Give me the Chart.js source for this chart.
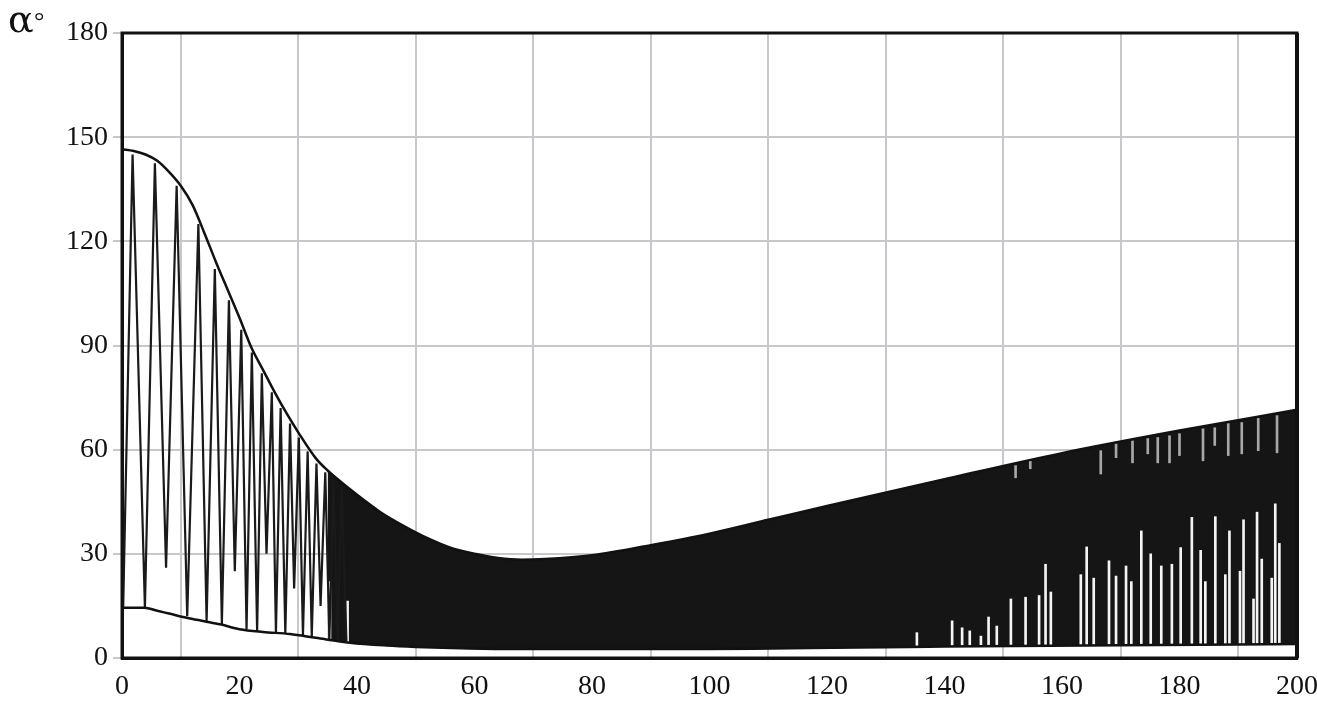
<!DOCTYPE html>
<html>
<head>
<meta charset="utf-8">
<script src="https://cdn.jsdelivr.net/npm/chart.js@4.4.1/dist/chart.umd.min.js"></script>
<style>
  html, body { margin: 0; padding: 0; background: #fff; }
  #wrap { width: 1317px; height: 702px; }
</style>
</head>
<body>
<div id="wrap"><canvas id="grafico" width="1317" height="702"></canvas></div>
<script>
// eixos
const xTicks = [0, 20, 40, 60, 80, 100, 120, 140, 160, 180, 200];
const yTicks = [0, 30, 60, 90, 120, 150, 180];

// envoltória superior
const upperX = [0, 2, 4, 6, 8, 10, 12, 14, 16, 18, 20, 22, 24, 26, 28, 30, 33, 35, 36, 40, 44, 48, 52, 56, 60, 64, 68, 72, 80, 90, 100, 110, 120, 140, 160, 180, 200];
const upperY = [146.5, 146, 145, 143.2, 140, 136, 130.5, 122.5, 114, 106, 98, 89.5, 83, 76.5, 70.5, 65, 57.5, 54, 52.5, 47, 42, 38, 34.5, 31.7, 30, 28.8, 28.3, 28.5, 29.6, 32.5, 35.8, 39.8, 43.8, 51.5, 59, 65.5, 71.5];

// envoltória inferior
const lowerX = [0, 3.8, 6, 8, 11, 14, 16.7, 20, 24, 28.6, 33, 38.8, 45, 50, 56, 66, 100, 140, 170, 200];
const lowerY = [14.5, 14.5, 13.6, 12.8, 11.6, 10.6, 9.7, 8.3, 7.5, 6.9, 5.8, 4.4, 3.6, 3.2, 2.9, 2.6, 2.6, 3.3, 3.7, 4.0];

// oscilação visível no início (picos e vales)
const peakX = [1.8, 5.6, 9.3, 13.0, 15.8, 18.2, 20.3, 22.1, 23.8, 25.5, 27.0, 28.6, 30.1, 31.6, 33.1, 34.6, 36.0, 37.4];
const peakY = [145, 142.5, 136, 125, 112, 103, 94.5, 88, 82, 76.5, 72, 67.5, 63.5, 59.5, 56, 53.5, 51, 49];
const troughX = [0.2, 3.9, 7.5, 11.1, 14.4, 17.0, 19.2, 21.2, 23.0, 24.6, 26.2, 27.8, 29.3, 30.8, 32.3, 33.8, 35.3, 36.7, 38.2];
const troughY = [14.5, 14.5, 26, 12, 10.5, 9.7, 25, 8.2, 7.8, 30, 7.2, 7, 20, 6.5, 6.2, 15, 5.5, 5, 4.8];

// faixas brancas na parte densa (vales que não chegam ao fundo)
const spikeX = [35.4, 38.4, 135.3, 141.3, 143, 144.3, 146.2, 147.5, 148.9, 151.3, 153.8, 156.1, 157.2, 158.1, 163.2, 164.2, 165.4, 168.0, 169.2, 170.9, 171.8, 173.5, 175.1, 176.9, 178.7, 180.2, 182.1, 183.6, 184.4, 186.1, 187.8, 188.5, 190.3, 190.9, 192.6, 193.2, 194.0, 195.7, 196.3, 197.0];
const spikeTop = [22, 16.4, 7.3, 10.7, 8.7, 7.8, 6.3, 11.8, 9.2, 17, 17.5, 18, 27, 19, 24, 32, 23, 28, 23.6, 26.5, 22, 36.6, 30, 26.5, 27, 31.8, 40.5, 31, 22, 40.7, 24, 36.6, 25, 39.8, 17, 42, 28.5, 23, 44.4, 33];
const spikeBase = 3.6;

// recortes cinzas no topo (picos que não chegam à envoltória)
const notchX = [152.1, 154.6, 166.6, 169.2, 172.0, 174.6, 176.3, 178.3, 180.0, 184.0, 186.0, 188.3, 190.6, 193.4, 196.6];
const notchLow = [51.9, 54.5, 53, 57.7, 56.2, 58.8, 56.2, 56.2, 58.3, 56.8, 61.2, 58.3, 58.8, 59.7, 59.1];
const notchHigh = [55.4, 56.8, 59.7, 61.7, 62.6, 63.2, 63.5, 64, 64.6, 66, 66.3, 67.5, 67.8, 69, 69.8];

const pares = (xs, ys) => xs.map((x, i) => ({ x: x, y: ys[i] }));

const zigzag = [];
troughX.forEach((x, i) => {
    zigzag.push({ x: x, y: troughY[i] });
    if (i < peakX.length) zigzag.push({ x: peakX[i], y: peakY[i] });
});

const faixa = pares(upperX, upperY).filter(p => p.x >= 35);

const rotuloAlfa = {
    id: 'rotuloAlfa',
    afterDraw(chart) {
        const ctx = chart.ctx;
        ctx.save();
        ctx.fillStyle = '#111';
        ctx.textBaseline = 'alphabetic';
        ctx.font = '38px "DejaVu Serif"';
        ctx.fillText('α', 8, 32);
        ctx.font = '26px "Liberation Serif"';
        ctx.fillText('°', 34, 29);
        ctx.restore();
    }
};

const moldura = {
    id: 'moldura',
    afterDatasetsDraw(chart) {
        const { ctx, chartArea: a } = chart;
        ctx.save();
        ctx.strokeStyle = '#111';
        ctx.lineWidth = 3;
        ctx.strokeRect(a.left, a.top, a.right - a.left, a.bottom - a.top);
        ctx.lineWidth = 4;
        ctx.beginPath();
        ctx.moveTo(a.right, a.top);
        ctx.lineTo(a.right, a.bottom);
        ctx.stroke();
        ctx.restore();
    }
};

const fonte = { family: '"Liberation Serif", serif', size: 28 };
const curva = { cubicInterpolationMode: 'monotone', pointRadius: 0 };

new Chart(document.getElementById('grafico'), {
    type: 'line',
    data: {
        datasets: [
            { ...curva, data: pares(upperX, upperY), borderColor: '#111', borderWidth: 2.5, fill: false, order: 0 },
            { ...curva, data: pares(lowerX, lowerY), borderColor: '#111', borderWidth: 2.5, fill: false, order: 0 },
            { data: zigzag, borderColor: '#1a1a1a', borderWidth: 2.2, pointRadius: 0, fill: false, order: 2 },
            { ...curva, data: faixa, borderWidth: 0, borderColor: 'rgba(0,0,0,0)', backgroundColor: '#151515', fill: 1, order: 5 },
            {
                type: 'bar',
                data: spikeX.map((x, i) => ({ x: x, y: [spikeBase, spikeTop[i]] })),
                backgroundColor: '#f4f4f4', barThickness: 2, grouped: false, order: 3
            },
            {
                type: 'bar',
                data: notchX.map((x, i) => ({ x: x, y: [notchLow[i], notchHigh[i]] })),
                backgroundColor: '#a8a8a8', barThickness: 2, grouped: false, order: 3
            }
        ]
    },
    options: {
        responsive: false,
        animation: false,
        layout: { padding: { top: 33, right: 20, bottom: 0, left: 0 } },
        plugins: { legend: { display: false }, tooltip: { enabled: false } },
        scales: {
            x: {
                type: 'linear', min: 0, max: 200, offset: false,
                afterBuildTicks: s => { s.ticks = xTicks.map(v => ({ value: v })); },
                afterFit: s => { s.height = 44; s.paddingLeft = 0; s.paddingRight = 0; },
                grid: { color: '#c8c8cc', lineWidth: 2, drawTicks: false },
                border: { display: true, color: '#111', width: 3 },
                ticks: { color: '#111', font: fonte, padding: 12, maxRotation: 0 }
            },
            y: {
                type: 'linear', min: 0, max: 180,
                afterBuildTicks: s => { s.ticks = yTicks.map(v => ({ value: v })); },
                afterFit: s => { s.width = 122; s.paddingTop = 0; s.paddingBottom = 0; },
                grid: { color: '#c8c8cc', lineWidth: 2, tickLength: 9 },
                border: { display: true, color: '#111', width: 3 },
                ticks: { color: '#111', font: fonte, padding: 5 }
            }
        }
    },
    plugins: [moldura, rotuloAlfa]
});
</script>
</body>
</html>
